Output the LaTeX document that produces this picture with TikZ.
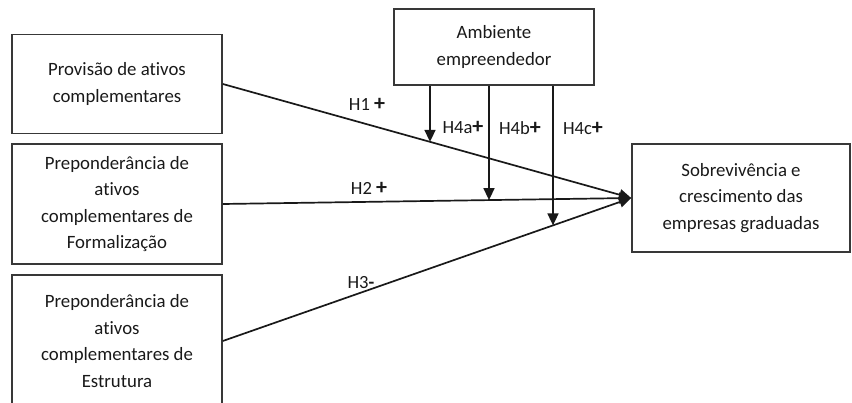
\documentclass[tikz,border=0pt]{standalone}
\usepackage{fontspec}
\setmainfont{Carlito}[Ligatures=CommonOff]
\usetikzlibrary{arrows.meta,intersections,calc}
\newcommand{\plussign}{{\fontsize{22}{22}\selectfont\textbf{+}}}
\begin{document}
\begin{tikzpicture}[x=1pt,y=-1pt,
  box/.style={draw=black!78,line width=1.6pt,align=center,inner sep=0pt,
    font=\fontsize{18.8}{26.5}\selectfont,text=black!90},
  link/.style={line width=1.7pt,draw=black!90},
  tip/.style={-{Triangle[length=12pt,width=11pt]}},
  lbl/.style={font=\fontsize{18.6}{20}\selectfont,text=black!90,inner sep=0pt}]
  \useasboundingbox (0,0) rectangle (852,403);
  \begin{scope}
    \clip (0,0) rectangle (852,403);
    % explanatory constructs
    \node[box,minimum width=210pt,minimum height=99pt] (prov) at (117,84)
      {Provisão de ativos\\complementares};
    \node[box,minimum width=210pt,minimum height=120pt] (form) at (117,204)
      {Preponderância de\\ativos\\complementares de\\Formalização};
    \node[box,minimum width=210pt,minimum height=132pt] (estr) at (117,341)
      {Preponderância de\\ativos\\complementares de\\Estrutura};
    % moderator and outcome
    \node[box,minimum width=200pt,minimum height=76pt] (amb) at (494,47)
      {Ambiente\\empreendedor};
    \node[box,minimum width=218pt,minimum height=108pt] (sob) at (741,198)
      {Sobrevivência e\\crescimento das\\empresas graduadas};
  \end{scope}
  % direct effects
  \draw[link,tip,name path=l1] (prov.east) -- (sob.west);
  \draw[link,tip,name path=l2] (form.east) -- (sob.west);
  \draw[link,tip,name path=l3] (estr.east) -- (sob.west);
  % moderating effects
  \path[name path=v1] (430,0) -- (430,400);
  \path[name path=v2] (489,0) -- (489,400);
  \path[name path=v3] (553,0) -- (553,400);
  \path[name intersections={of=l1 and v1,by=m1}];
  \path[name intersections={of=l2 and v2,by=m2}];
  \path[name intersections={of=l3 and v3,by=m3}];
  \draw[link,tip] (amb.south -| m1) -- (m1);
  \draw[link,tip] (amb.south -| m2) -- (m2);
  \draw[link,tip] (amb.south -| m3) -- (m3);
  % hypothesis labels
  \node[lbl] (h1) at (367,104) {H1 \plussign};
  \node[lbl] (h2) at (369,188) {H2 \plussign};
  \node[lbl] (h3) at (361,283) {H3\textbf{-}};
  \node[lbl] (h4a) at (463,127) {H4a\plussign};
  \node[lbl] (h4b) at (520,128) {H4b\plussign};
  \node[lbl] (h4c) at (583,128) {H4c\plussign};
\end{tikzpicture}
\end{document}
